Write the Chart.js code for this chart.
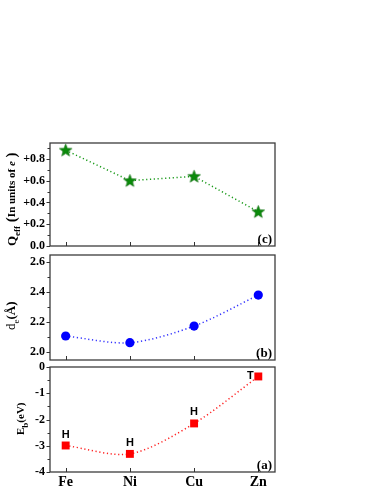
<!DOCTYPE html>
<html>
<head>
<meta charset="utf-8">
<script src="https://cdn.jsdelivr.net/npm/chart.js@4.4.0/dist/chart.umd.min.js"></script>
<style>
html, body { margin: 0; padding: 0; background: #fff; }
#wrap { position: relative; width: 383px; height: 495px; }
canvas { position: absolute; left: 0; top: 0; }
</style>
</head>
<body>
<div id="wrap">
  <canvas id="chartC" width="383" height="495"></canvas>
  <canvas id="chartB" width="383" height="495"></canvas>
  <canvas id="chartA" width="383" height="495"></canvas>
</div>
<script>
// data
const metals = ['Fe', 'Ni', 'Cu', 'Zn'];
const qEff = [0.88, 0.60, 0.64, 0.315];
const dE = [2.105, 2.06, 2.172, 2.38];
const eB = [-2.99, -3.31, -2.15, -0.36];
const sites = ['H', 'H', 'H', 'T'];
const qTicks = [0, 0.2, 0.4, 0.6, 0.8];
const dTicks = [2.0, 2.2, 2.4, 2.6];
const eTicks = [0, -1, -2, -3, -4];

const SERIF = '"Liberation Serif", "Times New Roman", serif';
const SANS = '"Liberation Sans", Arial, sans-serif';

// filled star marker
function makeStar(color) {
    const c = document.createElement('canvas');
    c.width = 15; c.height = 15;
    const g = c.getContext('2d');
    g.beginPath();
    for (let i = 0; i < 10; i++) {
        const r = i % 2 === 0 ? 6.6 : 2.8;
        const a = -Math.PI / 2 + i * Math.PI / 5;
        const px = 7.5 + r * Math.cos(a), py = 7.9 + r * Math.sin(a);
        if (i === 0) g.moveTo(px, py); else g.lineTo(px, py);
    }
    g.closePath();
    g.fillStyle = color;
    g.fill();
    g.strokeStyle = '#006400';
    g.lineWidth = 0.6;
    g.stroke();
    return c;
}

// draw text pieces along a rotated baseline
function drawRich(ctx, parts, x, y) {
    ctx.save();
    ctx.translate(x, y);
    ctx.rotate(-Math.PI / 2);
    ctx.textBaseline = 'alphabetic';
    ctx.textAlign = 'left';
    ctx.fillStyle = '#000';
    let pos = 0;
    parts.forEach(p => {
        ctx.font = p.font;
        ctx.fillText(p.text, pos, p.dy || 0);
        pos += ctx.measureText(p.text).width;
    });
    ctx.restore();
}

function makePanel(id, cfg) {
    const pts = cfg.values.map((v, i) => ({ x: i + 1, y: v }));

    const panelDeco = {
        id: 'panelDeco',
        afterDraw(chart) {
            const ctx = chart.ctx;
            const area = chart.chartArea;
            const ys = chart.scales.y, xs = chart.scales.x;
            ctx.save();
            // frame
            ctx.strokeStyle = '#3c3c3c';
            ctx.lineWidth = 1.3;
            ctx.strokeRect(area.left, area.top, area.right - area.left, area.bottom - area.top);
            // y ticks (major + minor), outward
            ctx.lineWidth = 1;
            ctx.strokeStyle = '#333';
            const n = Math.round((cfg.yMax - cfg.minorStart) / cfg.minorStep);
            for (let k = 0; k <= n; k++) {
                const v = cfg.minorStart + k * cfg.minorStep;
                if (v > cfg.yMax + 1e-9) break;
                const isMajor = cfg.ticks.some(t => Math.abs(t - v) < 1e-6);
                const py = Math.round(ys.getPixelForValue(v)) + 0.5;
                ctx.beginPath();
                ctx.moveTo(area.left - (isMajor ? 3.5 : 2.5), py);
                ctx.lineTo(area.left, py);
                ctx.stroke();
            }
            // x ticks, inward from bottom
            metals.forEach((m, i) => {
                const px = Math.round(xs.getPixelForValue(i + 1)) + 0.5;
                ctx.beginPath();
                ctx.moveTo(px, area.bottom);
                ctx.lineTo(px, area.bottom - 4);
                ctx.stroke();
            });
            // panel letter
            ctx.fillStyle = '#000';
            ctx.font = 'bold 13px ' + SERIF;
            ctx.textAlign = 'right';
            ctx.textBaseline = 'alphabetic';
            ctx.fillText(cfg.letter, area.right - 3, area.bottom - 3);
            // site labels
            if (cfg.sites) {
                ctx.font = 'bold 11px ' + SANS;
                ctx.textBaseline = 'middle';
                ctx.textAlign = 'center';
                cfg.sites.forEach((s, i) => {
                    const px = xs.getPixelForValue(i + 1);
                    const py = ys.getPixelForValue(cfg.values[i]);
                    if (s === 'T') {
                        ctx.fillText(s, px - 8, py);
                    } else {
                        ctx.fillText(s, px, py - 11);
                    }
                });
            }
            ctx.restore();
            cfg.title(ctx);
        }
    };

    return new Chart(document.getElementById(id), {
        type: 'line',
        data: {
            datasets: [{
                data: pts,
                borderColor: cfg.lineColor,
                borderWidth: 1.5,
                borderDash: [1.2, 2.6],
                tension: cfg.tension,
                pointStyle: cfg.pointStyle,
                pointRadius: cfg.radius,
                pointBackgroundColor: cfg.color,
                pointBorderColor: cfg.color,
                pointBorderWidth: 0,
                fill: false
            }]
        },
        options: {
            responsive: false,
            animation: false,
            events: [],
            layout: { padding: { top: cfg.top, bottom: cfg.bottom, left: 0, right: 108 } },
            plugins: { legend: { display: false }, tooltip: { enabled: false } },
            scales: {
                x: {
                    type: 'linear',
                    min: 0.756,
                    max: 4.26,
                    grid: { display: false, drawTicks: false },
                    border: { display: false },
                    afterBuildTicks: s => { s.ticks = metals.map((m, i) => ({ value: i + 1 })); },
                    afterFit: s => { s.height = cfg.showX ? 20 : 0; },
                    ticks: {
                        display: cfg.showX,
                        padding: 2,
                        color: '#000',
                        font: { family: SERIF, size: 14, weight: 'bold' },
                        callback: v => metals[v - 1]
                    }
                },
                y: {
                    min: cfg.yMin,
                    max: cfg.yMax,
                    grid: { display: false, drawTicks: false },
                    border: { display: false },
                    afterBuildTicks: s => { s.ticks = cfg.ticks.map(v => ({ value: v })); },
                    afterFit: s => { s.width = 50; },
                    ticks: {
                        padding: 5,
                        color: '#000',
                        font: { family: SERIF, size: 12, weight: 'bold' },
                        callback: cfg.fmt
                    }
                }
            }
        },
        plugins: [panelDeco]
    });
}

// (c) effective charge
makePanel('chartC', {
    values: qEff, ticks: qTicks, yMin: 0, yMax: 0.946,
    minorStart: 0, minorStep: 0.1,
    fmt: v => v === 0 ? '0.0' : '+' + v.toFixed(1),
    color: '#0a8a0a', lineColor: '#1a9a1a', pointStyle: makeStar('#0a8a0a'), radius: 7,
    tension: 0, top: 143, bottom: 495 - 246, letter: '(c)', showX: false,
    title: ctx => drawRich(ctx, [
        { text: 'Q', font: 'bold 13px ' + SERIF },
        { text: 'eff', font: 'bold 9px ' + SERIF, dy: 4 },
        { text: ' (', font: 'bold 15px ' + SERIF, dy: 0 },
        { text: 'In units of ', font: 'bold 11px ' + SERIF, dy: -1 },
        { text: 'e', font: 'italic bold 11px ' + SERIF, dy: -1 },
        { text: ' )', font: 'bold 15px ' + SERIF, dy: 0 }
    ], 16, 246)
});

// (b) distance
makePanel('chartB', {
    values: dE, ticks: dTicks, yMin: 1.944, yMax: 2.649,
    minorStart: 2.0, minorStep: 0.1,
    fmt: v => v.toFixed(1),
    color: '#0000ff', lineColor: '#3333ff', pointStyle: 'circle', radius: 4.6,
    tension: 0.3, top: 255, bottom: 495 - 360, letter: '(b)', showX: false,
    title: ctx => drawRich(ctx, [
        { text: 'd', font: '13px ' + SERIF },
        { text: 'e', font: '9px ' + SERIF, dy: 4 },
        { text: '(Å)', font: 'bold 13px ' + SERIF, dy: 0 }
    ], 15, 330)
});

// (a) binding energy
makePanel('chartA', {
    values: eB, ticks: eTicks, yMin: -4, yMax: 0,
    minorStart: -4, minorStep: 0.5,
    fmt: v => String(v),
    color: '#ff0000', lineColor: '#ff2020', pointStyle: 'rect', radius: 5.6,
    tension: 0.3, top: 367, bottom: 495 - 472 - 20, letter: '(a)', showX: true, sites: sites,
    title: ctx => drawRich(ctx, [
        { text: 'E', font: 'bold 11px ' + SERIF },
        { text: 'b', font: 'bold 9px ' + SERIF, dy: 4 },
        { text: '(eV)', font: 'bold 11px ' + SERIF, dy: 0 }
    ], 24, 435)
});
</script>
</body>
</html>
